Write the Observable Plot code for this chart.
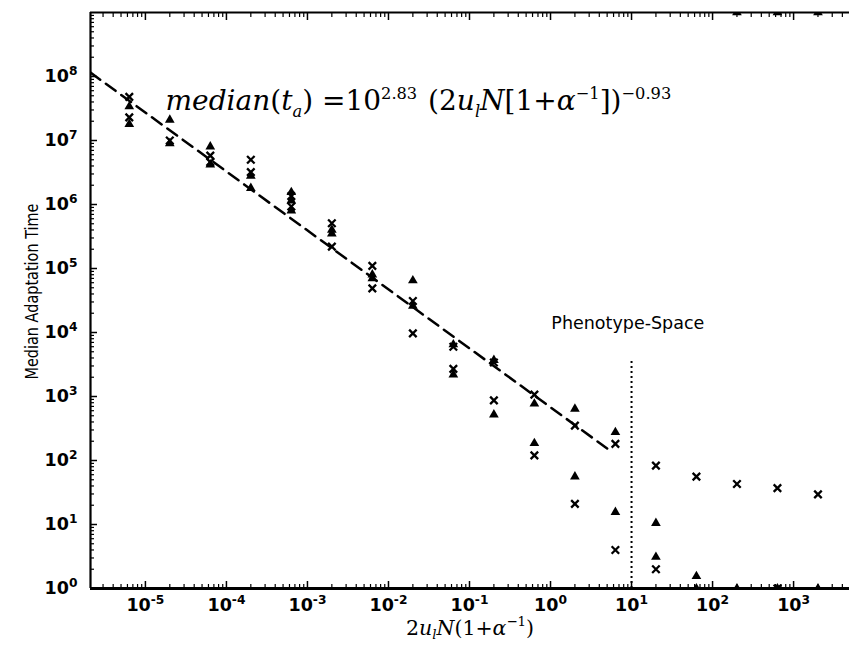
<!DOCTYPE html>
<html><head><meta charset="utf-8">
<script src="https://cdn.jsdelivr.net/npm/d3@7"></script>
<script src="https://cdn.jsdelivr.net/npm/@observablehq/plot@0.6"></script>
<style>
body{margin:0;background:#fff}
#chart{width:849px;height:649px}
</style>
</head><body><div id="chart"></div>
<script>
// ---------- data ----------
const columnX = [6.32e-6, 2e-5, 6.32e-5, 2e-4, 6.32e-4, 2e-3, 6.32e-3, 2e-2, 6.32e-2, 0.2, 0.632, 2, 6.32, 20, 63.2, 200, 632, 2000];

const triangleX = [6.32e-6, 6.32e-6, 2e-5, 2e-5, 6.32e-5, 6.32e-5, 2e-4, 2e-4, 6.32e-4, 6.32e-4, 6.32e-4,
  2e-3, 2e-3, 6.32e-3, 6.32e-3, 2e-2, 2e-2, 6.32e-2, 6.32e-2, 0.2, 0.2, 0.632, 0.632, 2, 2, 6.32, 6.32,
  20, 20, 63.2, 63.2, 200, 200, 632, 632, 2000, 2000];
const triangleY = [3.4e7, 1.8e7, 2.1e7, 9.0e6, 8.0e6, 4.2e6, 2.8e6, 1.8e6, 1.55e6, 1.15e6, 8.0e5,
  4.0e5, 3.5e5, 8.0e4, 7.0e4, 6.5e4, 2.6e4, 6.5e3, 2.2e3, 3.7e3, 520, 770, 186, 640, 56, 276, 15.6,
  10.5, 3.1, 1.55, 1, 1, 1e9, 1, 1e9, 1, 1e9];

const crossX = [6.32e-6, 6.32e-6, 2e-5, 6.32e-5, 6.32e-5, 2e-4, 2e-4, 6.32e-4, 6.32e-4,
  2e-3, 2e-3, 6.32e-3, 6.32e-3, 2e-2, 2e-2, 6.32e-2, 6.32e-2, 0.2, 0.2, 0.632, 0.632, 2, 2, 6.32, 6.32,
  20, 20, 63.2, 200, 632, 632, 2000];
const crossY = [4.8e7, 2.3e7, 1.0e7, 5.8e6, 4.6e6, 5.0e6, 3.2e6, 1.35e6, 9.3e5,
  5.1e5, 2.2e5, 1.1e5, 4.9e4, 3.1e4, 9.7e3, 6.0e3, 2.7e3, 3.4e3, 870, 1070, 120, 350, 21, 182, 4.0,
  83, 2.0, 56, 43, 37, 1, 29.5];

// fitted power law (dashed), endpoints
const fitX = [2.1e-6, 5.0];
const fitY = [1.15e8, 154];

// phenotype-space boundary (dotted)
const boundaryX = [10];
const boundaryTop = [3800];

const xTickValues = [1e-5, 1e-4, 1e-3, 1e-2, 1e-1, 1, 10, 100, 1000];
const xTickLabels = ["10^-5", "10^-4", "10^-3", "10^-2", "10^-1", "10^0", "10^1", "10^2", "10^3"];
const yTickValues = [1, 10, 100, 1e3, 1e4, 1e5, 1e6, 1e7, 1e8];
const yTickLabels = ["10^0", "10^1", "10^2", "10^3", "10^4", "10^5", "10^6", "10^7", "10^8"];

const xDomain = [2.1e-6, 4.9e3];
const yDomain = [1, 1e9];

const yTitle = "Median Adaptation Time";
const annotation = "Phenotype-Space";

// ---------- build ----------
const tri = triangleX.map((x, i) => ({x, y: triangleY[i]}));
const crs = crossX.map((x, i) => ({x, y: crossY[i]}));
const fit = fitX.map((x, i) => ({x, y: fitY[i]}));
const bnd = boundaryX.map((x, i) => ({x, y2: boundaryTop[i]}));

function minorTicks(lo, hi) {
  const out = [];
  for (let e = Math.floor(Math.log10(lo)); e <= Math.ceil(Math.log10(hi)); e++)
    for (let m = 2; m <= 9; m++) { const v = m * Math.pow(10, e); if (v > lo && v < hi) out.push(v); }
  return out;
}
const xMinor = minorTicks(xDomain[0], xDomain[1]);
const yMinor = minorTicks(yDomain[0], yDomain[1]);
const xLab = new Map(xTickValues.map((v, i) => [v, xTickLabels[i]]));
const yLab = new Map(yTickValues.map((v, i) => [v, yTickLabels[i]]));

const sans = "DejaVu Sans";
const serif = "DejaVu Serif";
const TICK_FS = 17.5;

const chart = Plot.plot({
  width: 849, height: 649,
  marginLeft: 90, marginRight: 0, marginTop: 12, marginBottom: 61,
  x: {type: "log", domain: xDomain},
  y: {type: "log", domain: yDomain},
  style: {fontFamily: sans, fontSize: "16px", color: "black", background: "white", overflow: "visible"},
  marks: [
    // tick labels
    Plot.axisX(xTickValues, {anchor: "bottom", tickSize: 0, tickPadding: 10, tickFormat: d => xLab.get(d), label: null, fontSize: TICK_FS, fontWeight: 600}),
    Plot.axisY(yTickValues, {anchor: "left", tickSize: 0, tickPadding: 13, tickFormat: d => yLab.get(d), label: null, fontSize: TICK_FS, fontWeight: 600}),
    // inward ticks
    Plot.axisX(xTickValues, {anchor: "bottom", tickSize: 7, dy: -7, fill: "none", label: null, strokeWidth: 1.5}),
    Plot.axisX(xMinor, {anchor: "bottom", tickSize: 4, dy: -4, fill: "none", label: null, strokeWidth: 1.2}),
    Plot.axisX(xTickValues, {anchor: "top", tickSize: 7, dy: 7, fill: "none", label: null, strokeWidth: 1.5}),
    Plot.axisX(xMinor, {anchor: "top", tickSize: 4, dy: 4, fill: "none", label: null, strokeWidth: 1.2}),
    Plot.axisY(yTickValues, {anchor: "left", tickSize: 7, dx: 7, fill: "none", label: null, strokeWidth: 1.5}),
    Plot.axisY(yMinor, {anchor: "left", tickSize: 4, dx: 4, fill: "none", label: null, strokeWidth: 1.2}),
    // frame (left, top, bottom)
    Plot.ruleX([xDomain[0]], {strokeWidth: 2.2}),
    Plot.ruleY([yDomain[1]], {strokeWidth: 2}),
    Plot.ruleY([yDomain[0]], {strokeWidth: 3}),
    // fit and boundary
    Plot.line(fit, {x: "x", y: "y", stroke: "black", strokeWidth: 2.5, strokeDasharray: "12,7", clip: true}),
    Plot.ruleX(bnd, {x: "x", y1: () => yDomain[0], y2: "y2", stroke: "black", strokeWidth: 2, strokeDasharray: "2,3"}),
    // data
    Plot.dot(tri, {x: "x", y: "y", symbol: "triangle", r: 3.6, fill: "black", stroke: "none", clip: true}),
    Plot.dot(crs, {x: "x", y: "y", symbol: "times", r: 3.5, stroke: "black", strokeWidth: 2.3, clip: true}),
    // texts
    Plot.text([annotation], {x: () => 9, y: () => 1.4e4, text: d => d, fontSize: 17.5, fontFamily: sans}),
    Plot.text([yTitle], {frameAnchor: "left", rotate: -90, dx: -58, dy: -9, textAnchor: "middle", text: d => d, fontSize: 17, fontFamily: sans, fill: "black"}),
    Plot.text(["@@XTITLE@@"], {frameAnchor: "bottom", dy: 46, text: d => d, fontSize: 20.5, fontFamily: serif}),
    Plot.text(["@@EQ@@"], {x: () => 1.77e-5, y: () => 4.07e7, text: d => d, textAnchor: "start", fontSize: 28, fontFamily: serif})
  ]
});
document.getElementById("chart").appendChild(chart);

// ---------- rich text (super/subscripts) ----------
function rich(el, parts, base, supScale) {
  const sel = d3.select(el);
  sel.text("");
  let shift = 0;
  for (const p of parts) {
    const size = p.s ? base * supScale : base;
    const target = p.s === "sup" ? -base * 0.42 : p.s === "sub" ? base * 0.22 : 0;
    const t = sel.append("tspan").text(p.t).attr("font-size", size);
    if (target !== shift) { t.attr("dy", target - shift); shift = target; }
    if (p.i) t.attr("font-style", "italic");
    if (p.dx) t.attr("dx", p.dx);
  }
}
const svg = d3.select(chart);
svg.selectAll("text").each(function () {
  const s = this.textContent;
  let m;
  if ((m = /^10\^(.+)$/.exec(s))) {
    rich(this, [{t: "10"}, {t: m[1], s: "sup"}], TICK_FS, 0.7);
  } else if (s === "@@XTITLE@@") {
    rich(this, [{t: "2"}, {t: "u", i: 1}, {t: "l", i: 1, s: "sub"}, {t: "N", i: 1}, {t: "(1+"}, {t: "α", i: 1}, {t: "−1", s: "sup"}, {t: ")"}], 20.5, 0.65);
  } else if (s === "@@EQ@@") {
    rich(this, [{t: "median", i: 1}, {t: "("}, {t: "t", i: 1}, {t: "a", i: 1, s: "sub"}, {t: ") =10"},
      {t: "2.83", s: "sup"}, {t: " (2", dx: 2}, {t: "u", i: 1}, {t: "l", i: 1, s: "sub"}, {t: "N", i: 1}, {t: "[1+"},
      {t: "α", i: 1}, {t: "−1", s: "sup"}, {t: "])"}, {t: "−0.93", s: "sup"}], 28, 0.58);
  } else if (s === yTitle) {
    d3.select(this).attr("textLength", 176).attr("lengthAdjust", "spacingAndGlyphs");
  }
});
</script>
</body></html>
